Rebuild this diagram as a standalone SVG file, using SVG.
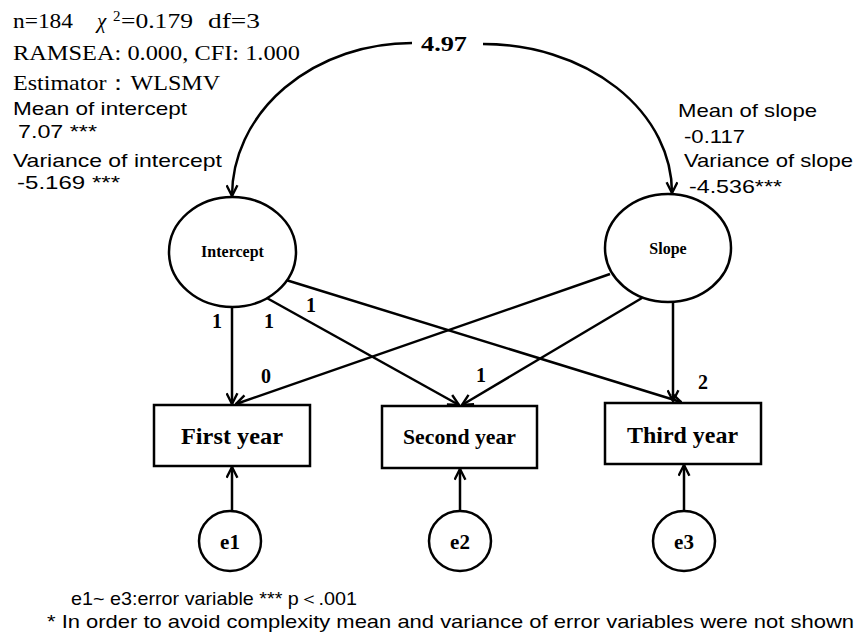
<svg xmlns="http://www.w3.org/2000/svg" width="857" height="635" viewBox="0 0 857 635">
<defs>
<marker id="arr" viewBox="0 0 12 12" refX="11" refY="6" markerWidth="13" markerHeight="13" markerUnits="userSpaceOnUse" orient="auto">
<path d="M1,1 L11,6 L1,11" fill="none" stroke="#000" stroke-width="2.2"/>
</marker>
<style>
.shape{fill:#fff;stroke:#000;stroke-width:2.5}
.line{fill:none;stroke:#000;stroke-width:2.5;marker-end:url(#arr)}
.serif{font-family:"Liberation Serif","Times New Roman",serif;fill:#000}
.sans{font-family:"Liberation Sans",Arial,sans-serif;fill:#000}
.b{font-weight:bold}
.lbl{font-family:"Liberation Serif","Times New Roman",serif;font-weight:bold;font-size:20px;fill:#000}
</style>
</defs>
<rect width="857" height="635" fill="#fff"/>

<g id="fit-info">
<text class="serif" font-size="21" y="28"><tspan x="13" textLength="60" lengthAdjust="spacingAndGlyphs">n=184</tspan><tspan x="97" font-style="italic">χ</tspan><tspan x="113" y="21" font-size="15">2</tspan><tspan x="121" y="28" textLength="72" lengthAdjust="spacingAndGlyphs">=0.179</tspan><tspan x="208" textLength="52" lengthAdjust="spacingAndGlyphs">df=3</tspan></text>
<text class="serif" font-size="21" x="13" y="60" textLength="287" lengthAdjust="spacingAndGlyphs">RAMSEA: 0.000, CFI: 1.000</text>
<text class="serif" font-size="21" x="13" y="90" textLength="207" lengthAdjust="spacingAndGlyphs">Estimator：WLSMV</text>
<text class="sans" font-size="19" x="13" y="115" textLength="174" lengthAdjust="spacingAndGlyphs">Mean of intercept</text>
<text class="sans" font-size="19" x="18" y="138" textLength="79" lengthAdjust="spacingAndGlyphs">7.07 ***</text>
<text class="sans" font-size="19" x="13" y="167" textLength="209" lengthAdjust="spacingAndGlyphs">Variance of intercept</text>
<text class="sans" font-size="19" x="17" y="189" textLength="103" lengthAdjust="spacingAndGlyphs">-5.169 ***</text>
<text class="sans" font-size="19" x="678" y="117" textLength="139" lengthAdjust="spacingAndGlyphs">Mean of slope</text>
<text class="sans" font-size="19" x="684" y="143" textLength="61" lengthAdjust="spacingAndGlyphs">-0.117</text>
<text class="sans" font-size="19" x="684" y="167" textLength="169" lengthAdjust="spacingAndGlyphs">Variance of slope</text>
<text class="sans" font-size="19" x="689" y="193" textLength="93" lengthAdjust="spacingAndGlyphs">-4.536***</text>
</g>

<g id="connectors">
<path class="line" d="M412,43 A180,153 0 0 0 232,196"/>
<path class="line" d="M483,44 A189,149 0 0 1 672,193"/>
<line class="line" x1="232" y1="307" x2="232" y2="404"/>
<line class="line" x1="265" y1="297" x2="459" y2="405"/>
<line class="line" x1="286" y1="280" x2="681" y2="402"/>
<line class="line" x1="610" y1="274" x2="236" y2="404"/>
<line class="line" x1="642" y1="298" x2="462" y2="405"/>
<line class="line" x1="673" y1="302" x2="673" y2="401"/>
<line class="line" x1="232" y1="511" x2="232" y2="467"/>
<line class="line" x1="460" y1="511" x2="460" y2="469"/>
<line class="line" x1="684" y1="511" x2="684" y2="465"/>
<text class="serif b" font-size="20" x="421" y="51" textLength="46" lengthAdjust="spacingAndGlyphs">4.97</text>
<text class="lbl" x="212" y="328">1</text>
<text class="lbl" x="264" y="328">1</text>
<text class="lbl" x="306" y="312">1</text>
<text class="lbl" x="261" y="383">0</text>
<text class="lbl" x="476" y="382">1</text>
<text class="lbl" x="698" y="389">2</text>
</g>

<g id="intercept">
<ellipse class="shape" cx="232.5" cy="252" rx="63.5" ry="55"/>
<text class="serif b" font-size="16" x="232.5" y="257" text-anchor="middle">Intercept</text>
</g>
<g id="slope">
<ellipse class="shape" cx="668" cy="248" rx="63" ry="54"/>
<text class="serif b" font-size="16" x="668" y="254" text-anchor="middle">Slope</text>
</g>
<g id="first-year">
<rect class="shape" x="154" y="405" width="156" height="61"/>
<text class="serif b" font-size="23" x="181" y="444" textLength="102" lengthAdjust="spacingAndGlyphs">First year</text>
</g>
<g id="second-year">
<rect class="shape" x="382" y="406" width="155" height="62"/>
<text class="serif b" font-size="21" x="403" y="444" textLength="113" lengthAdjust="spacingAndGlyphs">Second year</text>
</g>
<g id="third-year">
<rect class="shape" x="605" y="403" width="156" height="61"/>
<text class="serif b" font-size="24" x="627" y="443" textLength="111" lengthAdjust="spacingAndGlyphs">Third year</text>
</g>
<g id="e1">
<ellipse class="shape" cx="230" cy="541" rx="31" ry="30"/>
<text class="serif b" font-size="21" x="230" y="549" text-anchor="middle">e1</text>
</g>
<g id="e2">
<ellipse class="shape" cx="460" cy="541" rx="31" ry="30"/>
<text class="serif b" font-size="21" x="460" y="549" text-anchor="middle">e2</text>
</g>
<g id="e3">
<ellipse class="shape" cx="684" cy="541" rx="31" ry="30"/>
<text class="serif b" font-size="21" x="684" y="549" text-anchor="middle">e3</text>
</g>

<g id="notes">
<text class="sans" font-size="19" x="71" y="605" textLength="286" lengthAdjust="spacingAndGlyphs">e1~ e3:error variable *** p＜.001</text>
<text class="sans" font-size="19" x="47" y="628" textLength="807" lengthAdjust="spacingAndGlyphs">* In order to avoid complexity mean and variance of error variables were not shown</text>
</g>
</svg>
